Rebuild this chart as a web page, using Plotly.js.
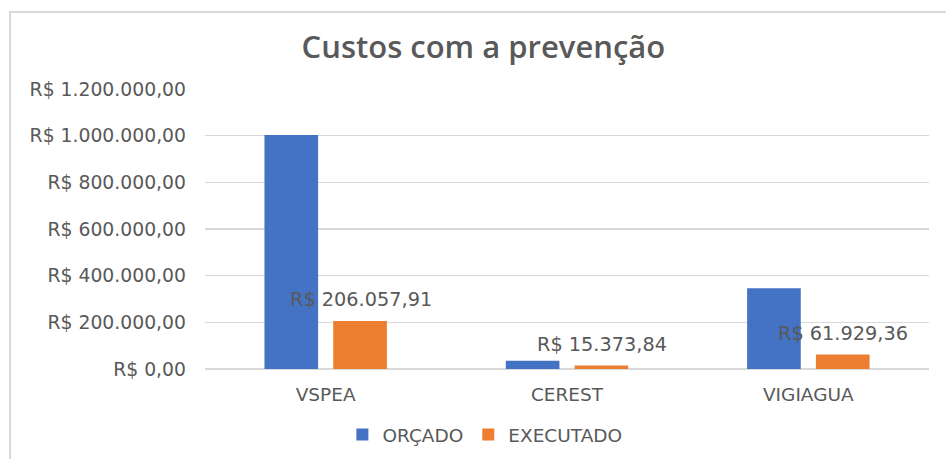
<!DOCTYPE html>
<html>
<head>
<meta charset="utf-8">
<script src="https://cdn.plot.ly/plotly-3.0.1.min.js"></script>
<style>
html,body{margin:0;padding:0;background:#fff;}
#wrap{position:relative;width:946px;height:459px;}
#chart{width:946px;height:459px;}
#frame{position:absolute;left:9px;top:11px;right:-2px;bottom:-2px;border-left:2px solid #d9d9d9;border-top:2px solid #d9d9d9;pointer-events:none;}
</style>
</head>
<body>
<div id="wrap"><div id="chart"></div><div id="frame"></div></div>
<script>
const categories = ["VSPEA", "CEREST", "VIGIAGUA"];
const orcado = [1003000, 35600, 346000];
const executado = [206057.91, 15373.84, 61929.36];
const seriesNames = ["ORÇADO", "EXECUTADO"];
const yTicks = [0, 200000, 400000, 600000, 800000, 1000000, 1200000];

function brl(v) {
  const parts = v.toFixed(2).split(".");
  const intPart = parts[0].replace(/\B(?=(\d{3})+(?!\d))/g, ".");
  return "R$ " + intPart + "," + parts[1];
}

const gray = "#595959";
const traces = [
  {type: "bar", name: seriesNames[0], x: categories, y: orcado,
   marker: {color: "#4472C4"}, hoverinfo: "skip"},
  {type: "bar", name: seriesNames[1], x: categories, y: executado,
   marker: {color: "#ED7D31"}, hoverinfo: "skip"}
];

const annotations = categories.map((c, i) => ({
  x: c, y: executado[i], xref: "x", yref: "y",
  text: brl(executado[i]), showarrow: false,
  xshift: 35, yshift: 21, yanchor: "middle", xanchor: "center",
  font: {family: "DejaVu Sans", size: 19.3, color: gray}
}));

const layout = {
  width: 946, height: 459,
  margin: {l: 205, r: 17, t: 89, b: 90, autoexpand: false},
  paper_bgcolor: "#fff", plot_bgcolor: "#fff",
  separators: ",.",
  barmode: "group", bargap: 0.43, bargroupgap: 0.22,
  title: {text: "Custos com a prevenção", x: 0.511, xref: "container", xanchor: "center",
          y: 1 - 47/459, yref: "container", yanchor: "middle",
          font: {family: "Open Sans", size: 31, weight: 600, color: gray}},
  xaxis: {type: "category", showgrid: false, zeroline: false, showline: false,
          automargin: false, ticks: "", ticklabelstandoff: 12,
          tickfont: {family: "DejaVu Sans", size: 18.5, color: gray}},
  yaxis: {range: [0, 1200000], tickvals: yTicks, ticktext: yTicks.map(brl),
          automargin: false,
          showgrid: true, gridcolor: "#d9d9d9", gridwidth: 1.5,
          zeroline: true, zerolinecolor: "#d9d9d9", zerolinewidth: 1.5,
          showline: false, ticks: "", ticklabelstandoff: 18,
          tickfont: {family: "DejaVu Sans", size: 18.8, color: gray}},
  legend: {orientation: "h", x: 0.3866, xanchor: "center", y: -0.236, yanchor: "middle",
           font: {family: "DejaVu Sans", size: 18.5, color: gray}, traceorder: "normal"},
  annotations: annotations,
  showlegend: true
};

Plotly.newPlot("chart", traces, layout, {displayModeBar: false, staticPlot: true});
</script>
</body>
</html>
